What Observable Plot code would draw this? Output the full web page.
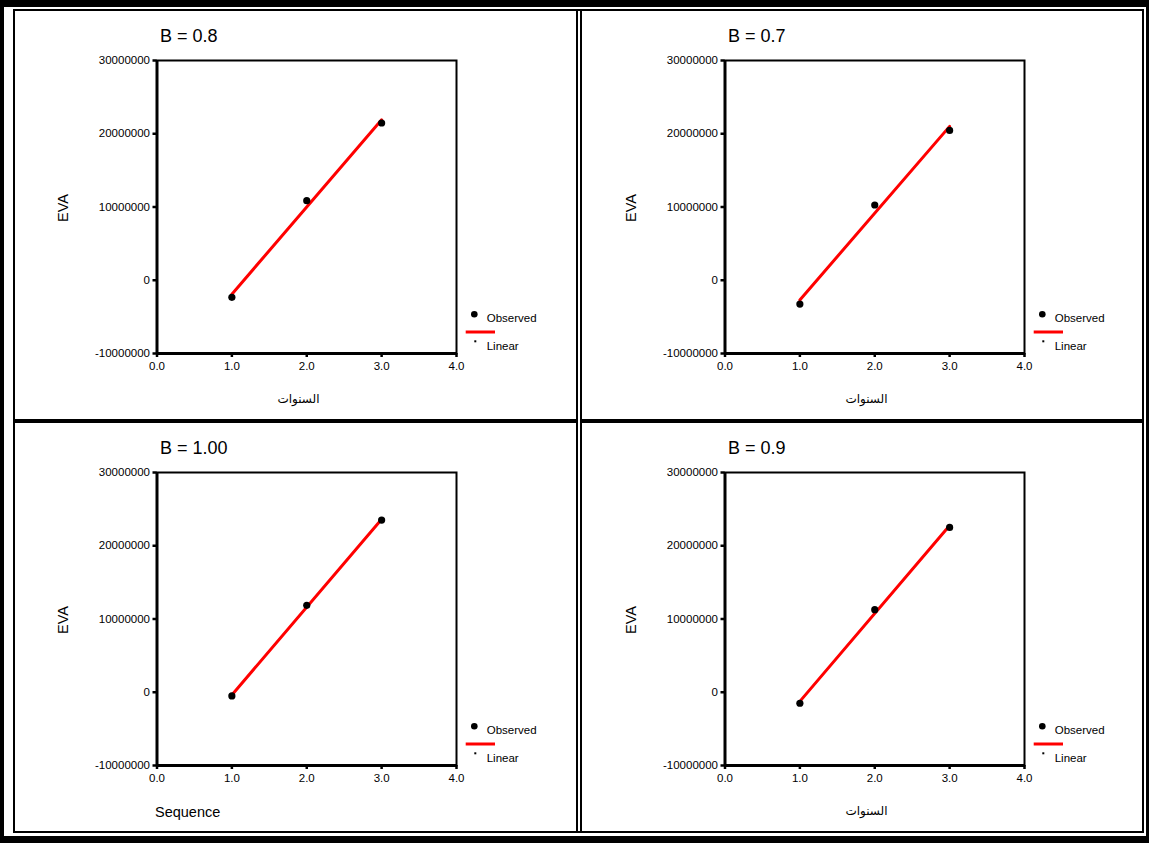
<!DOCTYPE html>
<html><head><meta charset="utf-8">
<script src="https://cdn.jsdelivr.net/npm/d3@7"></script>
<script src="https://cdn.jsdelivr.net/npm/@observablehq/plot@0.6"></script>
<style>
body{margin:0;background:#fff;}
#page{position:relative;width:1149px;height:843px;background:#000;overflow:hidden;font-family:"Liberation Sans",Arial,sans-serif;}
.abs{position:absolute;}
</style></head><body><div id="page"></div>
<script>
// ---- data ----
const panelTitles = ["B = 0.8", "B = 0.7", "B = 1.00", "B = 0.9"];
const xAxisLabels = ["السنوات", "السنوات", "Sequence", "السنوات"];
const yAxisLabel = "EVA";
const years = [1, 2, 3];
const evaB08 = [-2330000, 10860000, 21470000];
const evaB07 = [-3250000, 10270000, 20450000];
const evaB100 = [-500000, 11870000, 23500000];
const evaB09 = [-1500000, 11270000, 22500000];
const xTicks = [0, 1, 2, 3, 4];
const yTicks = [-10000000, 0, 10000000, 20000000, 30000000];
const legendLabels = ["Observed", "Linear"];

const xDomain = [xTicks[0], xTicks[xTicks.length - 1]];
const yDomain = [yTicks[0], yTicks[yTicks.length - 1]];
const series = [evaB08, evaB07, evaB100, evaB09];
const offsets = [[0, 0], [568, 0], [0, 412], [568, 412]];

const page = document.getElementById("page");
function box(l, t, w, h, c) {
  const d = document.createElement("div");
  d.className = "abs";
  Object.assign(d.style, {left: l + "px", top: t + "px", width: w + "px", height: h + "px", background: c});
  page.appendChild(d);
  return d;
}
// white area inside the thick outer border
box(4, 7, 1142, 829, "#fff");

const W = 578, H = 420;
const font = "'Liberation Sans', Arial, sans-serif";

series.forEach((vals, i) => {
  const data = years.map((yr, j) => ({year: yr, eva: vals[j]}));
  const [ox, oy] = offsets[i];
  const chart = Plot.plot({
    width: W, height: H,
    marginLeft: 156.5, marginRight: 122, marginTop: 60, marginBottom: 67,
    style: {background: "transparent", fontFamily: font, fontSize: "11.5px", color: "#000"},
    x: {domain: xDomain},
    y: {domain: yDomain},
    marks: [
      Plot.frame({stroke: "#000", strokeWidth: 2}),
      Plot.ruleX([xDomain[0]], {stroke: "#000", strokeWidth: 3}),
      Plot.ruleY([yDomain[0]], {stroke: "#000", strokeWidth: 3}),
      Plot.axisX({ticks: xTicks, tickFormat: d3.format(".1f"), tickSize: 4, tickPadding: 4, strokeWidth: 2.5, label: null, fill: "#000", fontSize: 11.5}),
      Plot.axisY({ticks: yTicks, tickFormat: d => String(d), tickSize: 4, tickPadding: 3, strokeWidth: 2.5, label: null, fill: "#000", fontSize: 11.5}),
      Plot.linearRegressionY(data, {x: "year", y: "eva", stroke: "#ff0000", strokeWidth: 3, ci: 0}),
      Plot.dot(data, {x: "year", y: "eva", r: 3.6, fill: "#000", stroke: "none"})
    ]
  });
  chart.classList.add("abs");
  chart.style.left = ox + "px";
  chart.style.top = oy + "px";
  page.appendChild(chart);

  // overlay for titles, axis labels and legend
  const svg = d3.create("svg").attr("width", W).attr("height", H)
    .attr("class", "abs").style("left", ox + "px").style("top", oy + "px")
    .style("font-family", font);
  svg.append("text").attr("x", 160).attr("y", 41.7).attr("font-size", 18).text(panelTitles[i]);
  svg.append("text").attr("transform", "translate(67.5,208) rotate(-90)")
    .attr("text-anchor", "middle").attr("font-size", 14.5).text(yAxisLabel);
  const isAr = /[\u0600-\u06FF]/.test(xAxisLabels[i]);
  if (isAr) {
    svg.append("text").attr("x", 298.5).attr("y", 403).attr("text-anchor", "middle")
      .attr("font-family", "'DejaVu Sans', sans-serif").attr("font-size", 12).attr("direction", "rtl")
      .text(xAxisLabels[i]);
  } else {
    svg.append("text").attr("x", 155).attr("y", 817.3 - 412).attr("font-size", 14.5).text(xAxisLabels[i]);
  }
  // legend
  svg.append("circle").attr("cx", 474.3).attr("cy", 314.3).attr("r", 3.3).attr("fill", "#000");
  svg.append("line").attr("x1", 465.7).attr("x2", 495).attr("y1", 332).attr("y2", 332)
    .attr("stroke", "#ff0000").attr("stroke-width", 3);
  svg.append("rect").attr("x", 474.3).attr("y", 340.3).attr("width", 2).attr("height", 2).attr("fill", "#000");
  svg.append("text").attr("x", 486.7).attr("y", 322).attr("font-size", 11.5).text(legendLabels[0]);
  svg.append("text").attr("x", 486.7).attr("y", 350.3).attr("font-size", 11.5).text(legendLabels[1]);
  page.appendChild(svg.node());
});

// border lines
box(13, 9, 1131, 2, "#000");      // top thin
box(13, 831, 1131, 2, "#000");    // bottom thin
box(13, 9, 2, 824, "#000");       // left thin
box(1142, 9, 2, 824, "#000");     // right thin
box(576, 9, 2, 824, "#000");      // divider double line
box(580, 9, 2, 824, "#000");
box(13, 419, 563, 4, "#000");     // horizontal divider
box(582, 419, 562, 4, "#000");
</script></body></html>
